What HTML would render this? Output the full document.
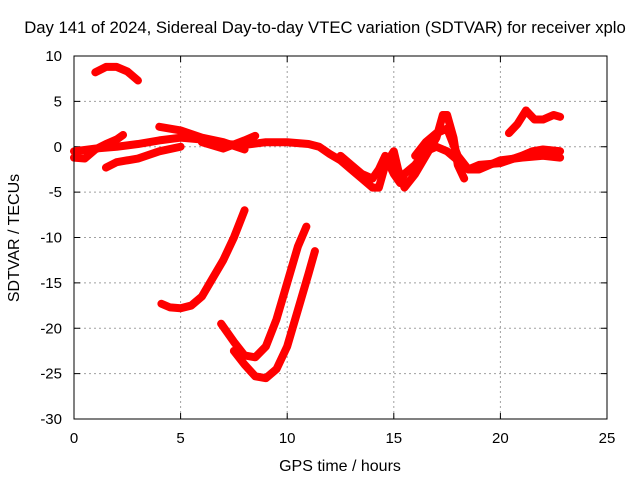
<!DOCTYPE html>
<html><head><meta charset="utf-8"><style>
body{margin:0;background:#fff;font-family:"Liberation Sans",sans-serif}
svg text{font-family:"Liberation Sans",sans-serif;font-size:15px;fill:#000}
</style></head><body>
<svg id="chart" width="640" height="480" xmlns="http://www.w3.org/2000/svg">
<text x="325" y="33" text-anchor="middle" style="font-size:16.7px">Day 141 of 2024, Sidereal Day-to-day VTEC variation (SDTVAR) for receiver xplo</text>
<text x="340" y="471" text-anchor="middle" style="font-size:16px">GPS time / hours</text>
<text transform="translate(19,238) rotate(-90)" text-anchor="middle" style="font-size:16px">SDTVAR / TECUs</text>
<g id="grid"></g>
<g id="ticks"></g>
<g id="series"></g>
<rect x="74" y="56" width="533" height="363" fill="none" stroke="#000" stroke-width="1"/>
</svg>
<script>
const xTicks=[0,5,10,15,20,25];
const yTicks=[10,5,0,-5,-10,-15,-20,-25,-30];
const trackA=[[0,-1.2],[0.5,-1.3],[1,-0.3],[1.5,0.3],[2,0.8],[2.3,1.3]];
const trackB=[[0,-0.5],[1,-0.2],[2,0],[3,0.3],[4,0.7],[5,1],[6,0.8],[7,0.3],[8,0.2],[9,0.5],[10,0.5],[11,0.3],[11.5,0],[12,-0.8],[12.5,-1.5],[13,-2.5],[13.5,-3.5],[14,-4.5],[14.3,-4.5],[14.6,-2],[15,-0.5],[15.2,-2.5],[15.5,-4.5],[16,-3],[16.5,-1],[17,1],[17.3,3.5],[17.5,3.5],[17.8,1],[18,-2],[18.3,-3.5]];
const trackC=[[4,2.2],[5,1.8],[6,1],[7,0.5],[8,-0.3]];
const trackD=[[1.5,-2.3],[2,-1.7],[3,-1.3],[4,-0.5],[5,0]];
const trackE=[[6,0.5],[7,-0.2],[8,0.7],[8.5,1.2]];
const trackF=[[12.5,-1],[13,-2],[13.5,-3],[14,-3.5],[14.3,-2.5],[14.6,-1],[15,-3],[15.3,-4],[15.5,-3],[16,-2],[16.5,-0.5],[17,0],[17.5,-0.5],[18,-1.5],[18.5,-2.5],[19,-2.5],[20,-1.5],[21,-1.2],[22,-1],[22.8,-1.2]];
const trackG=[[16,-1],[16.5,0.5],[17,1.5],[17.5,2],[18,-1],[18.5,-2.5],[19,-2],[20,-1.8],[21,-1],[21.5,-0.5],[22,-0.3],[22.8,-0.5]];
const trackH=[[1,8.2],[1.5,8.8],[2,8.8],[2.5,8.3],[3,7.3]];
const trackI=[[20.4,1.5],[20.8,2.5],[21.2,4],[21.6,3],[22,3],[22.5,3.5],[22.8,3.3]];
const trackJ=[[4.1,-17.3],[4.5,-17.7],[5,-17.8],[5.5,-17.5],[6,-16.5],[6.5,-14.5],[7,-12.5],[7.5,-10],[8,-7]];
const trackK=[[6.9,-19.5],[7.5,-21.5],[8,-23],[8.5,-23.2],[9,-22],[9.5,-19],[10,-15],[10.5,-11],[10.9,-8.8]];
const trackL=[[7.5,-22.5],[8,-24],[8.5,-25.3],[9,-25.5],[9.5,-24.5],[10,-22],[10.5,-18],[11,-14],[11.3,-11.5]];
const tracks=[trackA,trackB,trackC,trackD,trackE,trackF,trackG,trackH,trackI,trackJ,trackK,trackL];
const X0=74,X1=607,Y0=419,Y1=56;
function xs(v){return X0+(v-0)/(25-0)*(X1-X0);}
function ys(v){return Y0-(v+30)/(40)*(Y0-Y1);}
const NS='http://www.w3.org/2000/svg';
const grid=document.getElementById('grid'),ticks=document.getElementById('ticks'),ser=document.getElementById('series');
function mk(t,a,p){const e=document.createElementNS(NS,t);for(const k in a)e.setAttribute(k,a[k]);p.appendChild(e);return e;}
xTicks.forEach(v=>{const x=xs(v);
 if(v>0&&v<25){const g=mk('line',{x1:x,x2:x,y1:Y1,y2:Y0,stroke:'#a0a0a0','stroke-dasharray':'2,3'},grid);
 
 }
 mk('line',{x1:x,x2:x,y1:Y0,y2:Y0-6,stroke:'#000'},ticks);
 mk('line',{x1:x,x2:x,y1:Y1,y2:Y1+6,stroke:'#000'},ticks);
 const t=mk('text',{x:x,y:443,'text-anchor':'middle'},ticks);t.textContent=v;
 
 });
yTicks.forEach(v=>{const y=ys(v);
 if(v<10&&v>-30){const g=mk('line',{x1:X0,x2:X1,y1:y,y2:y,stroke:'#a0a0a0','stroke-dasharray':'2,3'},grid);
 
 }
 mk('line',{x1:X0,x2:X0+6,y1:y,y2:y,stroke:'#000'},ticks);
 mk('line',{x1:X1,x2:X1-6,y1:y,y2:y,stroke:'#000'},ticks);
 const t=mk('text',{x:62,y:y+5,'text-anchor':'end'},ticks);t.textContent=v;
 
 });
tracks.forEach((tr,i)=>{
 const p=mk('polyline',{points:tr.map(d=>xs(d[0])+','+ys(d[1])).join(' '),fill:'none',stroke:'#ff0000','stroke-width':8,'stroke-linejoin':'round','stroke-linecap':'round'},ser);
 
 });
</script>
</body></html>
